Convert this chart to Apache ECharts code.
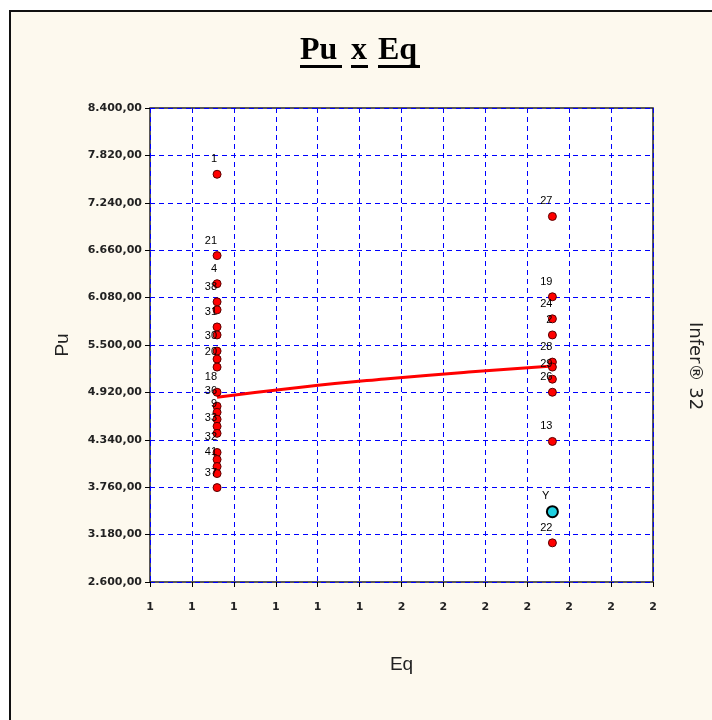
<!DOCTYPE html>
<html>
<head>
<meta charset="utf-8">
<script src="https://cdn.jsdelivr.net/npm/echarts@6/dist/echarts.min.js"></script>
<style>
  html, body { margin: 0; padding: 0; background: #fff; }
  #chart { width: 712px; height: 720px; }
</style>
</head>
<body>
<div id="chart"></div>
<script>
// observacoes (Eq, Pu, rotulo)
const obsEq = [1, 1, 1, 1, 1, 1, 1, 1, 1, 1, 1, 1, 1, 1, 1, 1, 1, 1, 1, 1, 1,
               2, 2, 2, 2, 2, 2, 2, 2, 2, 2]
const obsPu = [7589, 6594, 6250, 6028, 5930, 5721, 5623, 5426, 5328, 5230, 4922,
               4751, 4677, 4591, 4505, 4419, 4185, 4099, 4013, 3927, 3755,
               7073, 6090, 5820, 5623, 5291, 5230, 5082, 4922, 4320, 3079]
const obsId = ['1', '21', '4', '38', '7', '31', '3', '30', '25', '20', '18',
               '36', '12', '9', '14', '33', '32', '40', '41', '34', '37',
               '27', '19', '24', '2', '28', '35', '29', '26', '13', '22']

// ponto avaliado
const yEq = [2]
const yPu = [3460]
const yId = ['Y']

// curva ajustada
const fitEq = [1, 1.25, 1.5, 1.75, 2]
const fitPu = [4861, 4984, 5084, 5169, 5242]

// eixos
const xMin = 0.8, xMax = 2.3, xStep = 0.125
const yMin = 2600, yMax = 8400, yStep = 580

function fmtBR(v) {
    let parts = v.toFixed(2).split('.')
    let inteiro = parts[0].replace(/\B(?=(\d{3})+(?!\d))/g, '.')
    return inteiro + ',' + parts[1]
}

let chart = echarts.init(document.getElementById('chart'))

let obsData = []
for (let i = 0; i < obsPu.length; i++) {
    obsData.push({ name: obsId[i], value: [obsEq[i], obsPu[i]] })
}
let yData = []
for (let i = 0; i < yPu.length; i++) {
    yData.push({ name: yId[i], value: [yEq[i], yPu[i]] })
}
let fitData = []
for (let i = 0; i < fitPu.length; i++) {
    fitData.push([fitEq[i], fitPu[i]])
}

const labelStyle = {
    show: true,
    formatter: '{b}',
    position: 'top',
    align: 'right',
    offset: [-3, 1],
    fontFamily: 'Liberation Sans',
    fontSize: 11,
    color: '#000'
}

let option = {
    backgroundColor: '#fff',
    animation: false,
    graphic: [
        {
            type: 'rect', z: -10,
            shape: { x: 10, y: 11, width: 720, height: 720 },
            style: { fill: '#fdf9ee', stroke: '#111', lineWidth: 2 }
        },
        // titulo sublinhado
        { type: 'text', x: 300, y: 51, style: { text: 'Pu', font: 'bold 32px "Liberation Serif"', fill: '#000', verticalAlign: 'middle' } },
        { type: 'text', x: 351, y: 51, style: { text: 'x', font: 'bold 32px "Liberation Serif"', fill: '#000', verticalAlign: 'middle' } },
        { type: 'text', x: 378, y: 51, style: { text: 'Eq', font: 'bold 32px "Liberation Serif"', fill: '#000', verticalAlign: 'middle' } },
        { type: 'rect', shape: { x: 300, y: 65, width: 42, height: 3 }, style: { fill: '#000' } },
        { type: 'rect', shape: { x: 351, y: 65, width: 17, height: 3 }, style: { fill: '#000' } },
        { type: 'rect', shape: { x: 378, y: 65, width: 42, height: 3 }, style: { fill: '#000' } },
        {
            type: 'text', x: 695, y: 366, rotation: -Math.PI / 2,
            style: { text: 'Infer® 32', font: '18px "DejaVu Sans"', fill: '#222', align: 'center', verticalAlign: 'middle' }
        }
    ],
    grid: {
        left: 150, top: 108, right: 59, bottom: 138,
        show: true,
        backgroundColor: '#fff',
        borderColor: '#222',
        borderWidth: 1.5
    },
    xAxis: {
        type: 'value',
        min: xMin, max: xMax, interval: xStep,
        name: 'Eq',
        nameLocation: 'middle',
        nameGap: 73,
        nameTextStyle: { fontFamily: 'Liberation Sans', fontSize: 19, color: '#222' },
        axisLine: { show: false },
        axisTick: { show: true, length: 5, lineStyle: { color: '#000' } },
        axisLabel: {
            margin: 20,
            formatter: (v) => String(Math.round(v)),
            fontFamily: 'DejaVu Sans', fontWeight: 'bold', fontSize: 11, color: '#222',
            showMinLabel: true, showMaxLabel: true
        },
        splitLine: { show: true, lineStyle: { color: '#0000ff', type: [5, 4], width: 1 } }
    },
    yAxis: {
        type: 'value',
        min: yMin, max: yMax, interval: yStep,
        name: 'Pu',
        nameLocation: 'middle',
        nameRotate: 90,
        nameGap: 78,
        nameTextStyle: { fontFamily: 'Liberation Sans', fontSize: 19, color: '#222' },
        axisLine: { show: false },
        axisTick: { show: true, length: 5, lineStyle: { color: '#000' } },
        axisLabel: {
            margin: 8,
            formatter: fmtBR,
            fontFamily: 'DejaVu Sans', fontWeight: 'bold', fontSize: 11, color: '#222'
        },
        splitLine: { show: true, lineStyle: { color: '#0000ff', type: [5, 4], width: 1 } }
    },
    series: [
        {
            name: 'ajuste',
            type: 'line',
            data: fitData,
            smooth: true,
            showSymbol: false,
            lineStyle: { color: '#ff0000', width: 3 },
            z: 3
        },
        {
            name: 'observacoes',
            type: 'scatter',
            data: obsData,
            symbol: 'circle',
            symbolSize: 8,
            itemStyle: { color: '#ff0000', borderColor: '#5a0000', borderWidth: 1, opacity: 1 },
            label: labelStyle,
            labelLayout: { hideOverlap: true },
            z: 4
        },
        {
            name: 'Y',
            type: 'scatter',
            data: yData,
            symbol: 'circle',
            symbolSize: 11,
            itemStyle: { color: '#1fd0e0', borderColor: '#000', borderWidth: 2, opacity: 1 },
            label: labelStyle,
            z: 5
        }
    ]
}

chart.setOption(option)
</script>
</body>
</html>
